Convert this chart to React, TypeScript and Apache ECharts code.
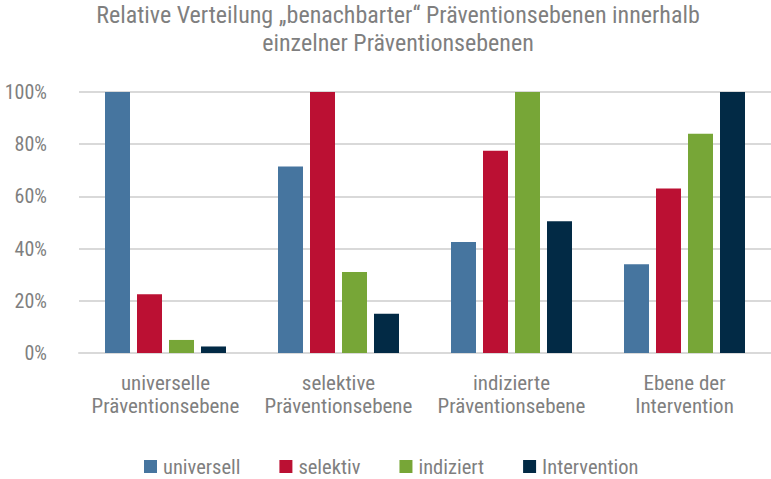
import React, { useEffect, useRef } from "react";
import * as echarts from "echarts";

const categories = [
  "universelle\nPräventionsebene",
  "selektive\nPräventionsebene",
  "indizierte\nPräventionsebene",
  "Ebene der\nIntervention",
];
const seriesNames = ["universell", "selektiv", "indiziert", "Intervention"];
const universell = [100, 71.5, 42.5, 34];
const selektiv = [22.5, 100, 77.5, 63];
const indiziert = [5, 31, 100, 84];
const intervention = [2.5, 15, 50.5, 100];
const colors = ["#46759f", "#bb1033", "#77a637", "#022a45"];
const titleText =
  "Relative Verteilung „benachbarter“ Präventionsebenen innerhalb\neinzelner Präventionsebenen";

const FONT = "'Roboto Condensed', 'DejaVu Sans Condensed', sans-serif";

export default function App() {
  const ref = useRef<HTMLDivElement>(null);
  useEffect(() => {
    if (!ref.current) return;
    const chart = echarts.init(ref.current, undefined, { renderer: "svg" });
    const dataSets = [universell, selektiv, indiziert, intervention];
    chart.setOption({
      animation: false,
      color: colors,
      title: {
        text: titleText,
        left: 398,
        top: 1,
        padding: 0,
        textAlign: "center",
        textStyle: {
          fontFamily: FONT,
          fontSize: 24,
          fontWeight: "normal",
          color: "#7f7f7f",
          lineHeight: 28,
          align: "center",
        },
      },
      legend: {
        data: seriesNames,
        left: 144,
        top: 456,
        padding: 0,
        itemWidth: 13,
        itemHeight: 13,
        itemGap: 39,
        icon: "rect",
        textStyle: { fontFamily: FONT, fontSize: 20.5, color: "#7f7f7f", padding: [0, 0, 0, 1] },
      },
      grid: { left: 79, right: -8, top: 92, bottom: 126, containLabel: false },
      xAxis: {
        type: "category",
        data: categories,
        axisLine: { lineStyle: { color: "#d9d9d9", width: 2 } },
        axisTick: { show: false },
        axisLabel: {
          interval: 0,
          fontFamily: FONT,
          fontSize: 21,
          color: "#7f7f7f",
          lineHeight: 23,
          margin: 18,
        },
      },
      yAxis: {
        type: "value",
        min: 0,
        max: 100,
        interval: 20,
        axisLine: { show: false },
        axisTick: { show: false },
        splitLine: { lineStyle: { color: "#d9d9d9", width: 2 } },
        axisLabel: {
          formatter: "{value}%",
          fontFamily: FONT,
          fontSize: 20,
          color: "#7f7f7f",
          margin: 32,
        },
      },
      series: seriesNames.map((name, i) => ({
        name,
        type: "bar",
        data: dataSets[i],
        barWidth: 25,
        barGap: "28%",
        itemStyle: { color: colors[i] },
      })),
    });
    return () => chart.dispose();
  }, []);
  return (
    <div
      ref={ref}
      style={{ position: "fixed", left: 0, top: 0, width: 771, height: 479, background: "#fff" }}
    />
  );
}
